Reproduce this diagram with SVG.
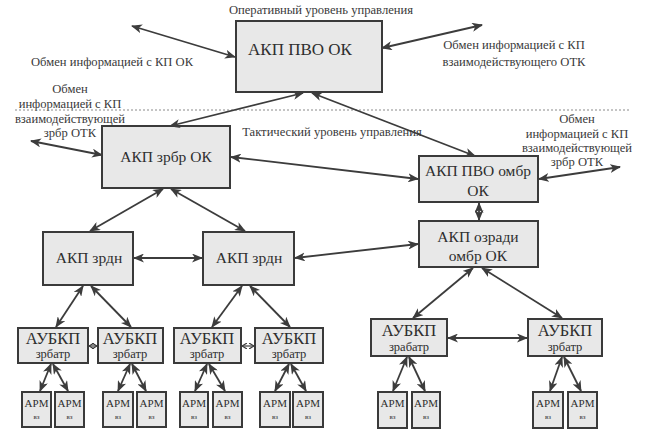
<svg xmlns="http://www.w3.org/2000/svg" width="650" height="445" viewBox="0 0 650 445">
<defs>
<marker id="ah" markerUnits="userSpaceOnUse" markerWidth="11" markerHeight="9" refX="10" refY="4.5" orient="auto-start-reverse"><path d="M0,0 L11,4.5 L0,9 L3,4.5 Z" fill="#3c3c3c"/></marker>
<marker id="as" markerUnits="userSpaceOnUse" markerWidth="6" markerHeight="6" refX="5" refY="3" orient="auto-start-reverse"><path d="M0,0 L5,3 L0,6" fill="none" stroke="#3c3c3c" stroke-width="1.2"/></marker>
<style>
.box{fill:#e8e8e8;stroke:#3a3a3a;stroke-width:2}
text{fill:#2e2e2e;text-anchor:middle}
.lbl{font-size:12.6px;fill:#3a3a3a}
.top{font-size:17px}
.big{font-size:16.5px}
.med{font-size:15.5px}
.sm{font-size:12.5px}
.arm{font-size:11px}
.vz{font-size:7px}
.c{stroke:#3c3c3c;stroke-width:1.8;fill:none;marker-start:url(#ah);marker-end:url(#ah)}
.cs{stroke:#3c3c3c;stroke-width:1.2;fill:none;marker-start:url(#as);marker-end:url(#as)}
</style>
</defs>
<rect width="650" height="445" fill="#fff"/>
<g font-family="Liberation Serif, Times New Roman, serif">
<g id="labels">
<text class="lbl" x="321" y="14">Оперативный уровень управления</text>
<text class="lbl" x="112" y="66">Обмен информацией с КП ОК</text>
<text class="lbl" x="514" y="49">Обмен информацией с КП</text>
<text class="lbl" x="514" y="66">взаимодействующего ОТК</text>
<text class="lbl" x="70" y="93">Обмен</text>
<text class="lbl" x="70" y="108">информацией с КП</text>
<text class="lbl" x="70" y="123">взаимодействующей</text>
<text class="lbl" x="70" y="137">зрбр ОТК</text>
<text class="lbl" x="332" y="136">Тактический уровень управления</text>
<text class="lbl" x="577" y="123">Обмен</text>
<text class="lbl" x="577" y="138">информацией с КП</text>
<text class="lbl" x="577" y="152">взаимодействующей</text>
<text class="lbl" x="577" y="166">зрбр ОТК</text>
<line x1="15" y1="110" x2="630" y2="110" stroke="#8a8a8a" stroke-width="1" stroke-dasharray="2,2"/>
</g>

<g id="n-akp-pvo-ok"><rect class="box" x="236" y="21" width="146" height="71"/><text class="top" x="300" y="55">АКП ПВО ОК</text></g>
<g id="n-akp-zrbr-ok"><rect class="box" x="102" y="126" width="128" height="62"/><text class="med" x="166" y="162">АКП зрбр ОК</text></g>
<g id="n-akp-pvo-ombr"><rect class="box" x="419" y="156" width="119" height="46"/><text class="med" x="478" y="176">АКП ПВО омбр</text><text class="med" x="478" y="196">ОК</text></g>
<g id="n-akp-ozradi"><rect class="box" x="419" y="221" width="119" height="46"/><text class="med" x="478" y="242">АКП озради</text><text class="med" x="478" y="261">омбр ОК</text></g>
<g id="n-zrdn1"><rect class="box" x="43" y="232" width="90" height="53"/><text class="med" x="89" y="263">АКП зрдн</text></g>
<g id="n-zrdn2"><rect class="box" x="203" y="232" width="91" height="53"/><text class="med" x="249" y="263">АКП зрдн</text></g>

<g id="n-aub1"><rect class="box" x="18" y="328" width="70" height="35"/><text class="big" x="53" y="344">АУБКП</text><text class="sm" x="53" y="358">зрбатр</text></g>
<g id="n-aub2"><rect class="box" x="98" y="328" width="65" height="35"/><text class="big" x="130" y="344">АУБКП</text><text class="sm" x="130" y="358">зрбатр</text></g>
<g id="n-aub3"><rect class="box" x="174" y="328" width="67" height="35"/><text class="big" x="207" y="344">АУБКП</text><text class="sm" x="207" y="358">зрбатр</text></g>
<g id="n-aub4"><rect class="box" x="255" y="328" width="68" height="35"/><text class="big" x="289" y="344">АУБКП</text><text class="sm" x="289" y="358">зрбатр</text></g>
<g id="n-aub5"><rect class="box" x="371" y="319" width="76" height="37"/><text class="big" x="409" y="336">АУБКП</text><text class="sm" x="409" y="351">зрабатр</text></g>
<g id="n-aub6"><rect class="box" x="528" y="319" width="74" height="37"/><text class="big" x="565" y="336">АУБКП</text><text class="sm" x="565" y="351">зрбатр</text></g>

<g id="n-arm1"><rect class="box" x="22" y="392" width="29" height="35"/><text class="arm" x="36.5" y="407">АРМ</text><text class="vz" x="36.5" y="419">вз</text></g>
<g id="n-arm2"><rect class="box" x="55" y="392" width="29" height="35"/><text class="arm" x="69.5" y="407">АРМ</text><text class="vz" x="69.5" y="419">вз</text></g>
<g id="n-arm3"><rect class="box" x="103" y="392" width="30" height="35"/><text class="arm" x="118" y="407">АРМ</text><text class="vz" x="118" y="419">вз</text></g>
<g id="n-arm4"><rect class="box" x="137" y="392" width="29" height="35"/><text class="arm" x="151.5" y="407">АРМ</text><text class="vz" x="151.5" y="419">вз</text></g>
<g id="n-arm5"><rect class="box" x="180" y="392" width="28" height="35"/><text class="arm" x="194" y="407">АРМ</text><text class="vz" x="194" y="419">вз</text></g>
<g id="n-arm6"><rect class="box" x="213" y="392" width="29" height="35"/><text class="arm" x="227.5" y="407">АРМ</text><text class="vz" x="227.5" y="419">вз</text></g>
<g id="n-arm7"><rect class="box" x="260" y="392" width="30" height="35"/><text class="arm" x="275" y="407">АРМ</text><text class="vz" x="275" y="419">вз</text></g>
<g id="n-arm8"><rect class="box" x="293" y="392" width="30" height="35"/><text class="arm" x="308" y="407">АРМ</text><text class="vz" x="308" y="419">вз</text></g>
<g id="n-arm9"><rect class="box" x="378" y="392" width="29" height="36"/><text class="arm" x="392.5" y="407">АРМ</text><text class="vz" x="392.5" y="419">вз</text></g>
<g id="n-arm10"><rect class="box" x="412" y="392" width="28" height="36"/><text class="arm" x="426" y="407">АРМ</text><text class="vz" x="426" y="419">вз</text></g>
<g id="n-arm11"><rect class="box" x="533" y="392" width="30" height="36"/><text class="arm" x="548" y="407">АРМ</text><text class="vz" x="548" y="419">вз</text></g>
<g id="n-arm12"><rect class="box" x="568" y="392" width="29" height="36"/><text class="arm" x="582.5" y="407">АРМ</text><text class="vz" x="582.5" y="419">вз</text></g>
</g>
<g id="connectors">
<line class="c" x1="132" y1="26" x2="235" y2="57"/>
<line class="c" x1="382" y1="48" x2="482" y2="25"/>
<line class="c" x1="102" y1="155" x2="31" y2="141"/>
<line class="c" x1="303" y1="93" x2="170" y2="126"/>
<line class="c" x1="312" y1="93" x2="475" y2="156"/>
<line class="c" x1="231" y1="157" x2="418" y2="179"/>
<line class="c" x1="539" y1="179" x2="620" y2="167"/>
<line class="c" x1="479" y1="203" x2="479" y2="220"/>
<line class="c" x1="295" y1="258" x2="418" y2="244"/>
<line class="c" x1="163" y1="189" x2="90" y2="231"/>
<line class="c" x1="171" y1="189" x2="245" y2="231"/>
<line class="c" x1="134" y1="258" x2="202" y2="258"/>
<line class="c" x1="83" y1="286" x2="56" y2="327"/>
<line class="c" x1="91" y1="286" x2="131" y2="327"/>
<line class="c" x1="242" y1="286" x2="212" y2="327"/>
<line class="c" x1="250" y1="286" x2="290" y2="327"/>
<line class="cs" x1="89" y1="346" x2="97" y2="346"/>
<line class="cs" x1="242" y1="346" x2="254" y2="346"/>
<line class="c" x1="473" y1="268" x2="413" y2="318"/>
<line class="c" x1="482" y1="268" x2="562" y2="318"/>
<line class="c" x1="448" y1="338" x2="527" y2="338"/>
<line class="c" x1="51" y1="364" x2="40" y2="391"/>
<line class="c" x1="53" y1="364" x2="68" y2="391"/>
<line class="c" x1="130" y1="364" x2="118" y2="391"/>
<line class="c" x1="132" y1="364" x2="146" y2="391"/>
<line class="c" x1="207" y1="364" x2="195" y2="391"/>
<line class="c" x1="209" y1="364" x2="225" y2="391"/>
<line class="c" x1="289" y1="364" x2="275" y2="391"/>
<line class="c" x1="291" y1="364" x2="306" y2="391"/>
<line class="c" x1="407" y1="357" x2="393" y2="391"/>
<line class="c" x1="409" y1="357" x2="425" y2="391"/>
<line class="c" x1="562" y1="357" x2="550" y2="391"/>
<line class="c" x1="564" y1="357" x2="581" y2="391"/>
</g>
</svg>
